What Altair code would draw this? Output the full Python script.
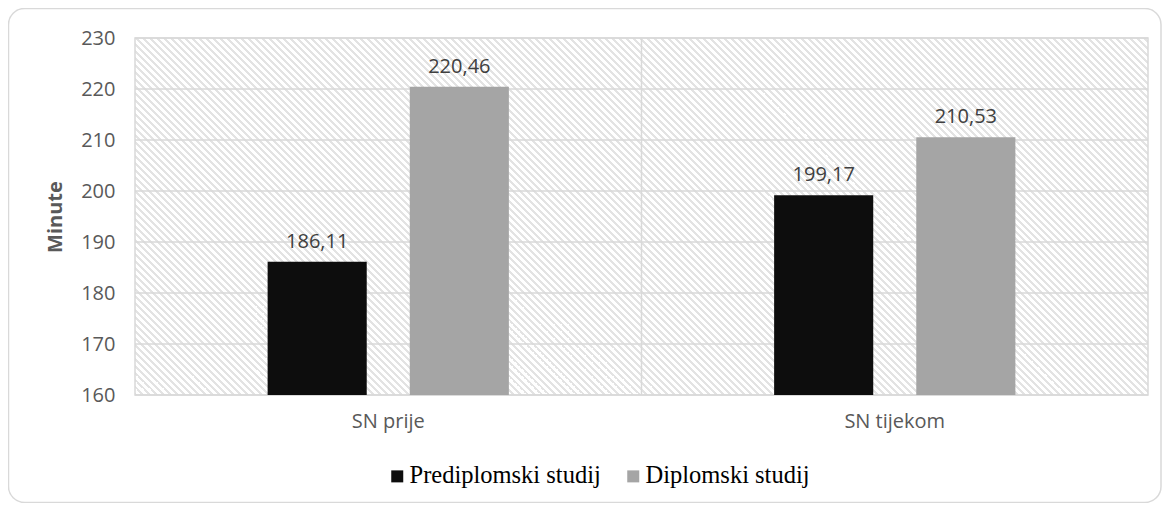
import altair as alt
import pandas as pd

categories = ["SN prije", "SN tijekom"]
series = ["Prediplomski studij", "Diplomski studij"]
prediplomski = [186.11, 199.17]
diplomski = [220.46, 210.53]
y_ticks = [160, 170, 180, 190, 200, 210, 220, 230]
colors = ["#0d0d0d", "#a5a5a5"]

rows = []
for i, c in enumerate(categories):
    for s, vals in zip(series, [prediplomski, diplomski]):
        v = vals[i]
        rows.append({"cat": c, "series": s, "value": v,
                     "label": f"{v:.2f}".replace(".", ",")})
df = pd.DataFrame(rows)
grid_df = pd.DataFrame({"value": y_ticks})
div_df = pd.DataFrame({"cat": [categories[1]]})
one_df = pd.DataFrame({"a": [0]})

W, H = 1013, 357
FONT = "Open Sans"
TXT = "#595959"

# diagonal hatch background as a striped linear gradient
r = H / W
k = (1 + r) / (1 + r * r)
pitch, sw = 7.0, 2.2
tot = W + H
stripe, white = "#e3e3e3", "#ffffff"
stops = []
pos = 0.0
while pos < tot:
    a = pos / tot
    b = min((pos + sw) / tot, 1.0)
    c2 = min((pos + pitch) / tot, 1.0)
    stops += [{"offset": a, "color": stripe}, {"offset": b, "color": stripe},
              {"offset": b, "color": white}, {"offset": c2, "color": white}]
    pos += pitch
grad = alt.LinearGradient(gradient="linear", stops=stops,
                          x1=0, y1=1, x2=k, y2=1 - k * r)

x_axis = alt.Axis(labelAngle=0, ticks=False, domain=False, grid=False,
                  labelFont=FONT, labelFontSize=20, labelColor=TXT,
                  labelPadding=16)
x_enc = alt.X("cat:N", sort=categories, title=None,
              scale=alt.Scale(paddingInner=0, paddingOuter=0), axis=x_axis)
y_enc = alt.Y("value:Q", title="Minute",
              scale=alt.Scale(domain=[160, 230], zero=False, nice=False),
              axis=alt.Axis(values=y_ticks, ticks=False, domain=False, grid=False,
                            labelFont=FONT, labelFontSize=20, labelColor=TXT,
                            labelPadding=20, titleFont=FONT, titleFontSize=20,
                            titleFontWeight="bold", titleColor=TXT, titlePadding=15))

bg = alt.Chart(one_df).mark_rect(fill=grad, stroke="#d9d9d9", strokeWidth=1.5).encode(
    x=alt.value(0), x2=alt.value("width"), y=alt.value(0), y2=alt.value("height"))

outer = alt.Chart(one_df).mark_rect(fillOpacity=0, stroke="#d9d9d9", strokeWidth=1.5,
                                    cornerRadius=16).encode(
    x=alt.value(-126.5), x2=alt.value(1026), y=alt.value(-29.5), y2=alt.value(464.5))

grid = alt.Chart(grid_df).mark_rule(color="#d9d9d9", strokeWidth=1.5).encode(y=y_enc)

divider = alt.Chart(div_df).mark_rule(color="#d9d9d9", strokeWidth=1.5).encode(
    x=alt.X("cat:N", sort=categories, bandPosition=0, title=None,
            scale=alt.Scale(paddingInner=0, paddingOuter=0), axis=x_axis))

xoff = alt.XOffset("series:N", sort=series,
                   scale=alt.Scale(paddingInner=0.3028, paddingOuter=0.933))

bars = alt.Chart(df).mark_bar().encode(
    x=x_enc, xOffset=xoff, y=y_enc, y2=alt.datum(160),
    color=alt.Color("series:N", sort=series,
                    scale=alt.Scale(domain=series, range=colors),
                    legend=alt.Legend(title=None, orient="none", direction="horizontal",
                                      legendX=250, legendY=426, padding=0,
                                      symbolType="square", symbolSize=144,
                                      symbolStrokeWidth=0, labelFont="Liberation Serif",
                                      labelFontSize=24.5, labelColor="#000000",
                                      labelLimit=0, labelOffset=0, columnPadding=20)))

labels = alt.Chart(df).mark_text(font=FONT, fontSize=20, color="#404040",
                                 baseline="alphabetic", dy=-14).encode(
    x=x_enc, xOffset=xoff, y=y_enc, text="label:N")

chart = alt.layer(bg, grid, divider, bars, labels, outer).properties(
    width=W, height=H,
    autosize=alt.AutoSizeParams(type="none"),
    padding={"left": 127, "top": 30, "right": 14, "bottom": 108},
    background="white",
).configure_view(strokeWidth=0)

chart.save("out.html", embed_options={"renderer": "svg", "actions": False})
